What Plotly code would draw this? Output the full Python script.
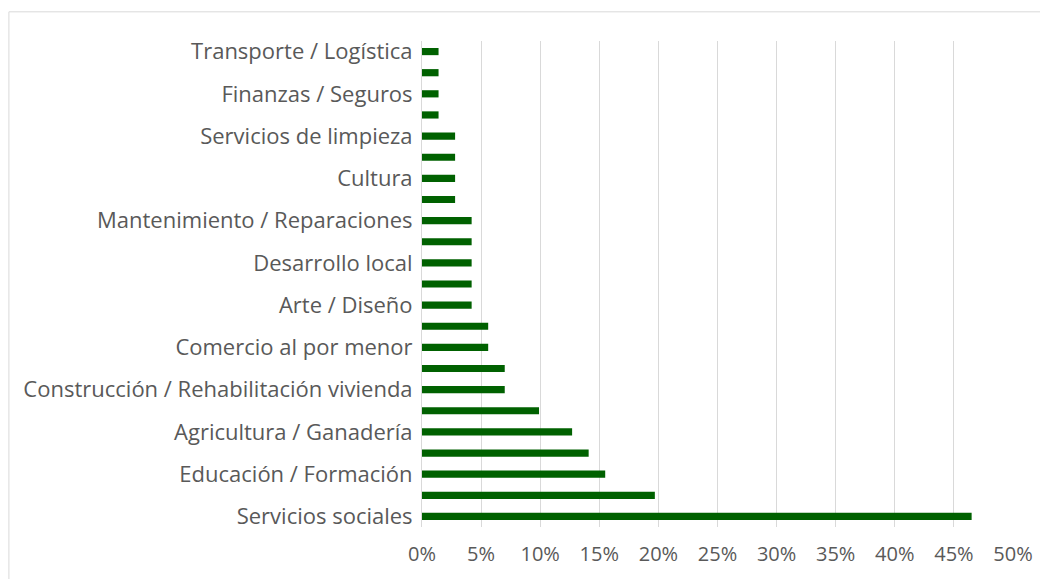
import plotly.graph_objects as go

# sectors, bottom to top (Excel only prints every other label)
sectores = [
    'Servicios sociales', 'Sector 2', 'Educación / Formación', 'Sector 4',
    'Agricultura / Ganadería', 'Sector 6', 'Construcción / Rehabilitación vivienda',
    'Sector 8', 'Comercio al por menor', 'Sector 10', 'Arte / Diseño', 'Sector 12',
    'Desarrollo local', 'Sector 14', 'Mantenimiento / Reparaciones', 'Sector 16',
    'Cultura', 'Sector 18', 'Servicios de limpieza', 'Sector 20',
    'Finanzas / Seguros', 'Sector 22', 'Transporte / Logística',
]
porcentaje = [
    0.465, 0.197, 0.155, 0.141, 0.127, 0.099, 0.070, 0.070, 0.056, 0.056,
    0.042, 0.042, 0.042, 0.042, 0.042, 0.028, 0.028, 0.028, 0.028,
    0.014, 0.014, 0.014, 0.014,
]
etiquetas = sectores[::2]
x_ticks = [0, 0.05, 0.10, 0.15, 0.20, 0.25, 0.30, 0.35, 0.40, 0.45, 0.50]

fig = go.Figure(go.Bar(
    x=porcentaje, y=sectores, orientation='h',
    marker=dict(color='#006100', line=dict(width=0)),
))

fig.update_layout(
    width=1048, height=579,
    margin=dict(l=414, r=43, t=33, b=60),
    plot_bgcolor='white', paper_bgcolor='white',
    bargap=0.66,
    showlegend=False,
    font=dict(family='Open Sans', size=20, color='#595959'),
    shapes=[dict(type='rect', xref='paper', yref='paper',
                 x0=-0.699, y0=-0.3, x1=1.2, y1=1.06,
                 line=dict(color='#d9d9d9', width=1), layer='below')],
)
fig.update_xaxes(range=[0, 0.5], tickvals=x_ticks, tickformat='.0%',
                 showgrid=True, gridcolor='#d9d9d9', gridwidth=1,
                 zeroline=False, showline=False, ticks='', ticklen=0,
                 ticklabelstandoff=13, tickfont=dict(size=20))
fig.update_yaxes(categoryorder='array', categoryarray=sectores,
                 tickvals=etiquetas, ticktext=etiquetas,
                 showgrid=False, showline=True, linecolor='#d9d9d9',
                 ticks='', ticklabelstandoff=4, tickfont=dict(size=22))

fig.write_html("out.html")
